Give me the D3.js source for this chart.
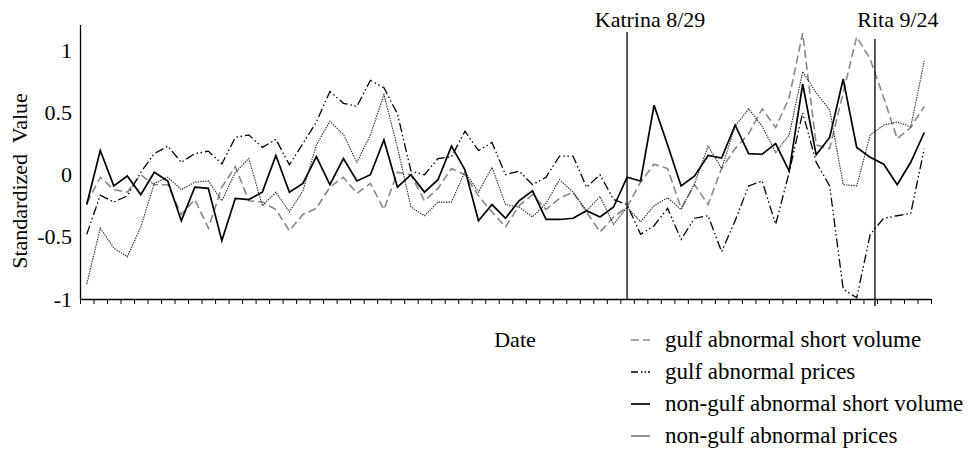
<!DOCTYPE html>
<html>
<head>
<meta charset="utf-8">
<script src="https://cdn.jsdelivr.net/npm/d3@7"></script>
<style>
  body { margin: 0; background: #fff; }
  text { font-family: "Liberation Serif", "Times New Roman", serif; fill: #000; }
</style>
</head>
<body>
<div id="chart"></div>
<script>
// trading days, 0 .. 62 (Katrina lands on day 40)
var days = d3.range(63);

var gulfShortVolume = [-0.23, -0.02, -0.12, -0.14, 0.0, -0.08, -0.08, -0.32, -0.20, -0.43,
  -0.10, 0.065, -0.21, -0.22, -0.28, -0.45, -0.32, -0.27, -0.10, -0.02,
  -0.15, -0.07, -0.28, 0.02, 0.0, -0.21, -0.11, 0.05, 0.0, -0.17,
  -0.30, -0.42, -0.25, -0.16, -0.28, -0.19, -0.14, -0.30, -0.46, -0.34,
  -0.26, -0.06, 0.085, 0.05, -0.27, -0.08, -0.24, 0.05, 0.21, 0.33,
  0.53, 0.38, 0.62, 1.14, 0.24, 0.21, 0.66, 1.11, 0.93, 0.62,
  0.29, 0.38, 0.55];

var gulfPrices = [-0.48, -0.165, -0.22, -0.17, 0.02, 0.17, 0.23, 0.10, 0.17, 0.19,
  0.087, 0.30, 0.32, 0.22, 0.285, 0.08, 0.25, 0.425, 0.67, 0.575,
  0.55, 0.76, 0.70, 0.49, 0.03, 0.0, 0.13, 0.145, 0.35, 0.195,
  0.26, 0.0, 0.03, -0.08, -0.02, 0.15, 0.15, -0.10, 0.0, -0.20,
  -0.24, -0.48, -0.41, -0.27, -0.52, -0.35, -0.33, -0.62, -0.37, -0.09,
  -0.05, -0.40, 0.02, 0.50, 0.10, -0.09, -0.92, -0.99, -0.48, -0.35,
  -0.33, -0.31, 0.21];

var nonGulfShortVolume = [-0.24, 0.195, -0.09, -0.01, -0.16, 0.02, -0.05, -0.37, -0.10, -0.11,
  -0.53, -0.19, -0.20, -0.14, 0.155, -0.14, -0.07, 0.145, -0.08, 0.13,
  -0.05, 0.0, 0.28, -0.10, 0.0, -0.14, -0.04, 0.23, 0.04, -0.37,
  -0.24, -0.35, -0.21, -0.13, -0.36, -0.36, -0.35, -0.29, -0.34, -0.26,
  -0.02, -0.05, 0.56, 0.24, -0.09, -0.01, 0.155, 0.135, 0.40, 0.17,
  0.165, 0.25, 0.03, 0.73, 0.16, 0.30, 0.77, 0.22, 0.14, 0.085,
  -0.08, 0.10, 0.34];

var nonGulfPrices = [-0.88, -0.43, -0.59, -0.66, -0.42, -0.07, -0.02, -0.12, -0.06, -0.05,
  -0.21, 0.02, 0.13, -0.25, -0.14, -0.30, -0.13, 0.24, 0.43, 0.325,
  0.10, 0.32, 0.645, 0.22, -0.26, -0.33, -0.22, -0.22, 0.025, -0.14,
  0.06, -0.24, -0.26, -0.34, -0.23, -0.04, -0.14, -0.29, -0.175, -0.40,
  -0.26, -0.38, -0.25, -0.185, -0.28, -0.07, 0.23, 0.05, 0.39, 0.53,
  0.39, 0.18, 0.32, 0.83, 0.66, 0.52, -0.08, -0.09, 0.32, 0.40,
  0.425, 0.385, 0.915];

var yTicks = [-1, -0.5, 0, 0.5, 1];
var yTickLabels = ["-1", "-0.5", "0", "0.5", "1"];

var eventNames = ["Katrina 8/29", "Rita 9/24"];
var eventDays = [40, 58.35];

var seriesNames = ["gulf abnormal short volume", "gulf abnormal prices",
  "non-gulf abnormal short volume", "non-gulf abnormal prices"];
var seriesValues = [gulfShortVolume, gulfPrices, nonGulfShortVolume, nonGulfPrices];

// legendDash: the key of the last series is drawn as a plain thin rule
var styles = [
  {stroke: "#888", width: 1.6, dash: "8,4", legendDash: "8,4"},
  {stroke: "#000", width: 1.3, dash: "9,3,1.5,2.5,1.5,3", legendDash: "7,3,1.5,2,1.5,2"},
  {stroke: "#000", width: 1.7, dash: null, legendDash: null},
  {stroke: "#222", width: 1.1, dash: "1.4,1.1", legendDash: null}
];

var width = 977, height = 452;
var plotLeft = 80, plotRight = 931, plotTop = 25, plotBottom = 299;

var svg = d3.select("#chart").append("svg")
    .attr("width", width)
    .attr("height", height);

var x = d3.scaleLinear().domain([-0.5, 62.5]).range([plotLeft, plotRight]);
var y = d3.scaleLinear().domain([-1, 1.205]).range([plotBottom, plotTop]);

// x axis: a tick at every day boundary, no labels
var xAxis = d3.axisBottom(x)
    .tickValues(d3.range(-0.5, 63, 1))
    .tickSize(5)
    .tickFormat("");

svg.append("g")
    .attr("transform", "translate(0," + plotBottom + ")")
    .call(xAxis)
    .call(function(g) {
      g.select(".domain").attr("d", "M" + plotLeft + ",0.5H" + plotRight).attr("stroke-width", 1.3);
      g.selectAll(".tick line").attr("stroke-width", 1);
    });

var yAxis = d3.axisLeft(y)
    .tickValues(yTicks)
    .tickSize(0)
    .tickPadding(8)
    .tickFormat(function(d, i) { return yTickLabels[i]; });

svg.append("g")
    .attr("transform", "translate(" + plotLeft + ",0)")
    .call(yAxis)
    .call(function(g) {
      g.select(".domain").attr("d", "M0.5," + plotTop + "V" + plotBottom).attr("stroke-width", 1.3);
      g.selectAll("text").style("font-size", "22px").style("font-family", "Liberation Serif");
    });

// lines
var line = d3.line()
    .x(function(d, i) { return x(days[i]); })
    .y(function(d) { return y(d); });

seriesValues.forEach(function(vals, k) {
  svg.append("path")
      .datum(vals)
      .attr("fill", "none")
      .attr("stroke", styles[k].stroke)
      .attr("stroke-width", styles[k].width)
      .attr("stroke-dasharray", styles[k].dash)
      .attr("stroke-linejoin", "miter")
      .attr("d", line);
});

// hurricane markers
var tops = [32, 39], ends = [plotBottom, 306];
eventDays.forEach(function(d, i) {
  svg.append("line")
      .attr("x1", x(d)).attr("x2", x(d))
      .attr("y1", tops[i]).attr("y2", ends[i])
      .attr("stroke", "#000")
      .attr("stroke-width", 1.3);
  svg.append("text")
      .attr("x", x(d) + 23)
      .attr("y", 27)
      .attr("text-anchor", "middle")
      .style("font-size", "22px")
      .text(eventNames[i]);
});

// axis titles
svg.append("text")
    .attr("transform", "translate(27,181) rotate(-90)")
    .attr("text-anchor", "middle")
    .style("font-size", "22px")
    .style("white-space", "pre")
    .text("Standardized  Value");

svg.append("text")
    .attr("x", 515)
    .attr("y", 347)
    .attr("text-anchor", "middle")
    .style("font-size", "22px")
    .text("Date");

// legend
var legend = svg.append("g").attr("transform", "translate(631,340)");
seriesNames.forEach(function(name, k) {
  var row = legend.append("g").attr("transform", "translate(0," + (k * 32) + ")");
  row.append("line")
      .attr("x1", 0).attr("x2", 19)
      .attr("y1", 0).attr("y2", 0)
      .attr("stroke", styles[k].stroke)
      .attr("stroke-width", k === 3 ? 1 : styles[k].width)
      .attr("stroke-dasharray", styles[k].legendDash);
  row.append("text")
      .attr("x", 34)
      .attr("y", 7)
      .style("font-size", "23px")
      .text(name);
});
</script>
</body>
</html>
